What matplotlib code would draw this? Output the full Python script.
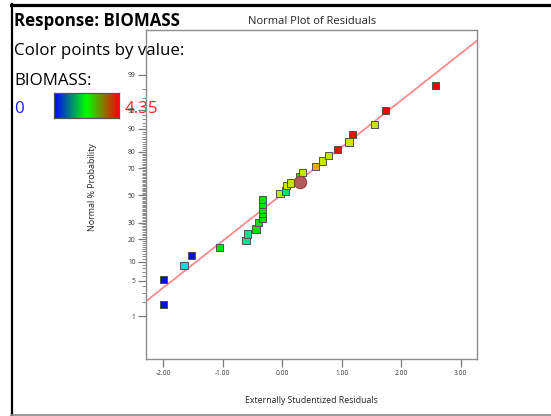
import numpy as np
import matplotlib
matplotlib.use("Agg")
import matplotlib.pyplot as plt
from matplotlib.colors import LinearSegmentedColormap
from matplotlib.lines import Line2D
from statistics import NormalDist

# ---------------- data ----------------
residuals = [-2.00, -2.00, -1.65, -1.52, -1.05, -0.61, -0.58, -0.44, -0.40,
             -0.33, -0.33, -0.33, -0.33, -0.33, -0.04, 0.05, 0.07, 0.14,
             0.29, 0.34, 0.56, 0.67, 0.77, 0.93, 1.12, 1.18, 1.55, 1.73, 2.58]
probability = [1.8, 5.2, 8.8, 12.3, 15.8, 19.1, 22.8, 25.8, 29.9,
               32.7, 36.2, 39.6, 43.1, 46.7, 51.3, 53.3, 57.6, 59.4,
               63.8, 67.3, 71.2, 74.6, 77.8, 81.2, 84.8, 88.1, 91.5, 94.9, 98.3]
biomass = [0.1, 0.1, 1.09, 0.1, 2.18, 1.48, 1.48, 2.15, 2.18,
           2.2, 2.18, 2.2, 2.2, 2.18, 3.1, 1.6, 3.1, 3.1,
           2.2, 3.1, 3.52, 3.1, 3.1, 4.25, 3.1, 4.25, 3.1, 4.3, 4.3]
highlight_residual = [0.30]
highlight_probability = [60.2]

fit_mean = -0.03
fit_sd = 1.107

biomass_min, biomass_max = 0.0, 4.35
x_ticks = [-2, -1, 0, 1, 2, 3]
x_tick_labels = ["-2.00", "-1.00", "0.00", "1.00", "2.00", "3.00"]
y_ticks = [1, 5, 10, 20, 30, 50, 70, 80, 90, 95, 99]
y_minor = [v for v in range(1, 100) if v not in y_ticks]
x_limits = (-2.29, 3.28)
y_limits = (0.079, 99.926)

# ---------------- figure ----------------
plt.rcParams["font.family"] = ["Open Sans", "DejaVu Sans"]
W, H = 551, 416
fig = plt.figure(figsize=(W / 100, H / 100), dpi=100)
fig.patch.set_facecolor("white")

def px(x, y):
    return x / W, 1 - y / H

# page frame
fig.add_artist(Line2D([11 / W, 1], [1 - 4.5 / H] * 2, color="black", lw=2.3))
fig.add_artist(Line2D([12 / W] * 2, [1 - 414.5 / H, 1 - 3.5 / H], color="black", lw=1.6))
fig.add_artist(Line2D([11 / W, 1], [1 - 414.5 / H] * 2, color="#8a8a8a", lw=1.2))

_nd = NormalDist()
_ppf = np.vectorize(lambda p: _nd.inv_cdf(p))
_cdf = np.vectorize(lambda z: _nd.cdf(z))

def fwd(p):
    p = np.clip(np.asarray(p, dtype=float) / 100.0, 1e-9, 1 - 1e-9)
    return _ppf(p)

def inv(z):
    return _cdf(np.asarray(z, dtype=float)) * 100.0

left, right, top, bottom = 146, 477.5, 30.5, 359.3
ax = fig.add_axes([left / W, 1 - bottom / H, (right - left) / W, (bottom - top) / H])
ax.set_facecolor("none")
ax.set_yscale("function", functions=(fwd, inv))
ax.set_xlim(*x_limits)
ax.set_ylim(*y_limits)

for s in ax.spines.values():
    s.set_color("#8c8c8c")
    s.set_linewidth(1.0)

ax.set_xticks(x_ticks)
ax.set_xticklabels(x_tick_labels)
ax.set_yticks(y_ticks)
ax.set_yticklabels([str(v) for v in y_ticks])
ax.set_yticks(y_minor, minor=True)
ax.tick_params(axis="x", which="major", direction="out", length=5.5, width=0.9,
               color="#7a7a7a", labelsize=4.8, labelcolor="#333333", pad=2.5)
ax.tick_params(axis="y", which="major", direction="out", length=6, width=0.9,
               color="#7a7a7a", labelsize=4.8, labelcolor="#333333", pad=1.5)
ax.tick_params(axis="y", which="minor", direction="out", length=2.8, width=0.6,
               color="#7a7a7a")
ax.tick_params(axis="x", which="minor", length=0)

# fit line
xl = np.linspace(x_limits[0], x_limits[1], 200)
ax.plot(xl, inv((xl - fit_mean) / fit_sd), color="#ff8a8a", lw=1.3, zorder=2)

# points
point_cmap = LinearSegmentedColormap.from_list(
    "pts", ["#0000d0", "#00e0e0", "#00e000", "#e8e800", "#e80000"])
ax.scatter(residuals, probability, c=biomass, cmap=point_cmap,
           vmin=biomass_min, vmax=biomass_max, marker="s", s=27,
           edgecolors="#505050", linewidths=0.7, zorder=3)
ax.scatter(highlight_residual, highlight_probability, marker="o", s=80,
           color="#b35a5a", edgecolors="#8a3c3c", linewidths=0.7, zorder=4)

# titles / labels
fig.text(*px(311.7, 24.3), "Normal Plot of Residuals", fontsize=8,
         ha="center", va="baseline", color="#222222")
fig.text(*px(311.7, 400.7), "Externally Studentized Residuals", fontsize=6.3,
         ha="center", va="center", color="#222222")
fig.text(*px(92.3, 186.7), "Normal % Probability", fontsize=6.4, rotation=90,
         ha="center", va="center", color="#222222")

# response legend
fig.text(*px(14, 26.5), "Response: BIOMASS", fontsize=12.2, fontweight="bold",
         ha="left", va="baseline", color="black", zorder=-1)
fig.text(*px(14, 55), "Color points by value:", fontsize=12.2,
         ha="left", va="baseline", color="black", zorder=-1)
fig.text(*px(14, 85), "BIOMASS:", fontsize=12.2,
         ha="left", va="baseline", color="black", zorder=-1)
fig.text(*px(14, 113.3), f"{biomass_min:g}", fontsize=12.2,
         ha="left", va="baseline", color="#1a1aff", zorder=-1)
fig.text(*px(125, 113.3), f"{biomass_max:g}", fontsize=12.2,
         ha="left", va="baseline", color="#ff2020", zorder=-1)

bar_cmap = LinearSegmentedColormap.from_list("bar", ["#0000ff", "#00ff00", "#ff0000"])
cax = fig.add_axes([54.3 / W, 1 - 118.3 / H, 65 / W, 25 / H])
cax.imshow(np.linspace(biomass_min, biomass_max, 256)[None, :], aspect="auto",
           cmap=bar_cmap, vmin=biomass_min, vmax=biomass_max)
cax.set_xticks([])
cax.set_yticks([])
for s in cax.spines.values():
    s.set_color("#555555")
    s.set_linewidth(0.9)

fig.savefig("out.png", dpi=100)
